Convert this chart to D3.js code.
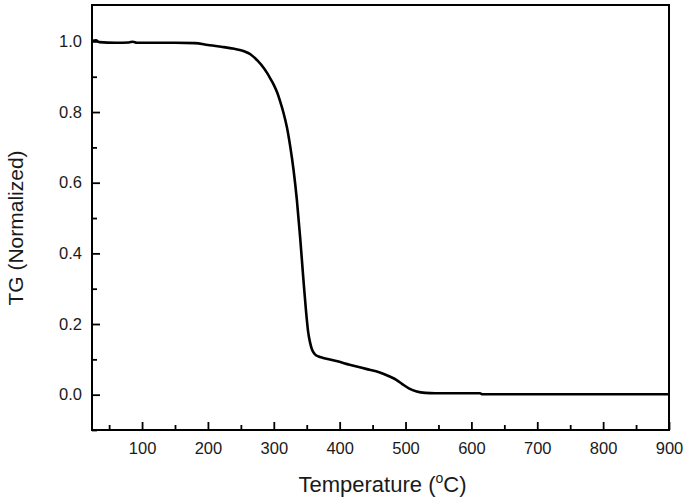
<!DOCTYPE html>
<html>
<head>
<meta charset="utf-8">
<script src="https://cdn.jsdelivr.net/npm/d3@7"></script>
<style>
  body { margin: 0; background: #fff; }
  text { font-family: Arial, "Liberation Sans", sans-serif; }
</style>
</head>
<body>
<svg id="chart" width="685" height="500"></svg>
<script>
const temperature = [25, 30, 35, 60, 80, 86, 92, 150, 180, 200, 220, 240, 255, 265, 275, 285, 290, 295, 300, 305, 310, 315, 320, 325, 330, 335, 340, 345, 349, 352, 355, 358, 362, 368, 375, 395, 415, 440, 461, 475, 486, 495, 505, 517, 530, 545, 613, 617, 900];
const tgValues =    [1.002, 1.003, 0.998, 0.996, 0.997, 0.999, 0.996, 0.996, 0.995, 0.990, 0.985, 0.979, 0.972, 0.963, 0.946, 0.924, 0.910, 0.894, 0.877, 0.856, 0.828, 0.796, 0.756, 0.702, 0.636, 0.552, 0.445, 0.325, 0.235, 0.180, 0.148, 0.128, 0.115, 0.108, 0.104, 0.095, 0.085, 0.073, 0.063, 0.052, 0.042, 0.030, 0.018, 0.009, 0.005, 0.004, 0.004, 0.001, 0.001];
const xTicks = [100, 200, 300, 400, 500, 600, 700, 800, 900];
const xMinorTicks = [50, 150, 250, 350, 450, 550, 650, 750, 850];
const yTicks = [0.0, 0.2, 0.4, 0.6, 0.8, 1.0];
const yMinorTicks = [-0.1, 0.1, 0.3, 0.5, 0.7, 0.9];

const svg = d3.select("#chart");
const L = 92, R = 669, T = 5, B = 430;
const x = d3.scaleLinear().domain([24, 900]).range([L, R]);
const y = d3.scaleLinear().domain([-0.1, 1.103]).range([B, T]);

const data = temperature.map((t, i) => ({t, v: tgValues[i]}));

// curve
svg.append("path")
  .datum(data)
  .attr("fill", "none")
  .attr("stroke", "#000")
  .attr("stroke-width", 2.6)
  .attr("stroke-linejoin", "round")
  .attr("d", d3.line().x(d => x(d.t)).y(d => y(d.v)).curve(d3.curveMonotoneX));

// x axis (ticks inward)
svg.append("g").attr("transform", `translate(0,${B})`)
  .call(d3.axisBottom(x).tickValues(xTicks).tickSizeInner(-8).tickSizeOuter(0).tickPadding(12).tickFormat(d3.format("d")));
svg.append("g").attr("transform", `translate(0,${B})`)
  .call(d3.axisBottom(x).tickValues(xMinorTicks).tickSizeInner(-5).tickSizeOuter(0).tickFormat(""));

svg.append("g").attr("transform", `translate(${L},0)`)
  .call(d3.axisLeft(y).tickValues(yTicks).tickSizeInner(-8).tickSizeOuter(0).tickPadding(10).tickFormat(d3.format(".1f")));
svg.append("g").attr("transform", `translate(${L},0)`)
  .call(d3.axisLeft(y).tickValues(yMinorTicks).tickSizeInner(-5).tickSizeOuter(0).tickFormat(""));

svg.selectAll(".tick line").attr("stroke", "#000").attr("stroke-width", 1.8);
svg.selectAll(".domain").remove();
svg.selectAll(".tick text").attr("font-size", 16.5).attr("fill", "#1a1a1a");

// frame
svg.append("rect").attr("x", L).attr("y", T).attr("width", R - L).attr("height", B - T)
  .attr("fill", "none").attr("stroke", "#000").attr("stroke-width", 2);

// axis titles
const xt = svg.append("text").attr("x", (295 + 470) / 2).attr("y", 492)
  .attr("text-anchor", "middle").attr("font-size", 22).attr("fill", "#1a1a1a");
xt.append("tspan").text("Temperature (");
xt.append("tspan").attr("font-size", 14).attr("dy", -9).text("o");
xt.append("tspan").attr("dy", 9).text("C)");

svg.append("text").attr("transform", `translate(23,228) rotate(-90)`)
  .attr("text-anchor", "middle").attr("font-size", 21).attr("fill", "#1a1a1a")
  .text("TG (Normalized)");
</script>
</body>
</html>
